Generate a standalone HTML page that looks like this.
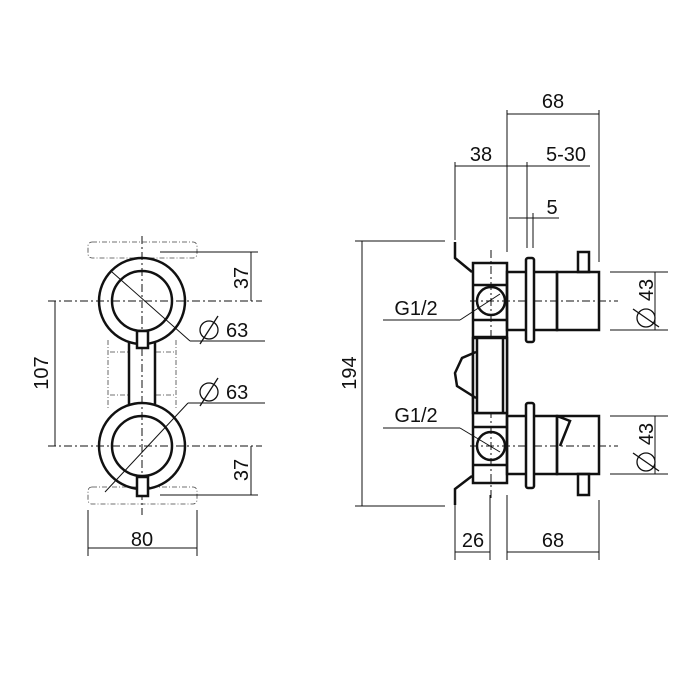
<!DOCTYPE html>
<html><head><meta charset="utf-8"><style>
html,body{margin:0;padding:0;background:#fff}
svg{display:block}
text{font-family:"Liberation Sans",sans-serif;font-size:20px;fill:#111}
</style></head><body>
<svg width="700" height="700" viewBox="0 0 700 700" xmlns="http://www.w3.org/2000/svg">
<g fill="none" stroke="#111">
<!-- LEFT VIEW -->
<g stroke-width="1" stroke-dasharray="8,3,2,3">
<line x1="48" y1="301" x2="262" y2="301"/>
<line x1="48" y1="446" x2="262" y2="446"/>
<line x1="142" y1="236" x2="142" y2="515"/>
</g>
<g stroke-width="0.8" stroke-dasharray="5,2,1,2" stroke="#444">
<rect x="88" y="242" width="109" height="16" rx="4"/>
<rect x="88" y="487" width="109" height="17" rx="4"/>
<line x1="108" y1="340" x2="108" y2="410"/>
<line x1="176" y1="340" x2="176" y2="410"/>
<line x1="110" y1="352" x2="128" y2="352"/><line x1="156" y1="352" x2="174" y2="352"/>
<line x1="110" y1="395" x2="128" y2="395"/><line x1="156" y1="395" x2="174" y2="395"/>
</g>
<g stroke-width="2.5">
<circle cx="142" cy="301" r="43"/>
<circle cx="142" cy="301" r="30"/>
<circle cx="142" cy="446" r="43"/>
<circle cx="142" cy="446" r="30"/>
<line x1="129" y1="343" x2="129" y2="404"/>
<line x1="155" y1="343" x2="155" y2="404"/>
<rect x="137" y="331" width="11" height="17" fill="#fff"/>
<rect x="137" y="477" width="11" height="19" fill="#fff"/>
</g>
<g stroke-width="1">
<line x1="112" y1="272" x2="190" y2="341"/><line x1="190" y1="341" x2="265" y2="341"/>
<line x1="105" y1="492" x2="188" y2="403"/><line x1="188" y1="403" x2="265" y2="403"/>
<line x1="55" y1="301" x2="55" y2="446"/>
<line x1="160" y1="252" x2="258" y2="252"/><line x1="251" y1="252" x2="251" y2="301"/>
<line x1="160" y1="495" x2="258" y2="495"/><line x1="251" y1="446" x2="251" y2="495"/>
<line x1="88" y1="510" x2="88" y2="556"/><line x1="197" y1="510" x2="197" y2="556"/>
<line x1="88" y1="548" x2="197" y2="548"/>
</g>
<!-- RIGHT VIEW -->
<g stroke-width="1" stroke-dasharray="8,3,2,3">
<line x1="470" y1="301" x2="618" y2="301"/>
<line x1="470" y1="446" x2="618" y2="446"/>
<line x1="491" y1="250" x2="491" y2="500"/>
</g>
<g stroke-width="1">
<line x1="455" y1="162" x2="455" y2="240"/><line x1="455" y1="505" x2="455" y2="560"/>
<line x1="507" y1="110" x2="507" y2="252"/><line x1="599" y1="110" x2="599" y2="262"/>
<line x1="507" y1="114" x2="599" y2="114"/>
<line x1="455" y1="166" x2="590" y2="166"/>
<line x1="527" y1="162" x2="527" y2="248"/><line x1="533" y1="213" x2="533" y2="248"/>
<line x1="509" y1="218" x2="559" y2="218"/>
<line x1="490" y1="495" x2="490" y2="560"/><line x1="507" y1="495" x2="507" y2="560"/><line x1="599" y1="500" x2="599" y2="560"/>
<line x1="455" y1="552" x2="490" y2="552"/><line x1="507" y1="552" x2="599" y2="552"/>
<line x1="362" y1="241" x2="362" y2="506"/>
<line x1="355" y1="241" x2="445" y2="241"/><line x1="355" y1="506" x2="445" y2="506"/>
<line x1="610" y1="272" x2="668" y2="272"/><line x1="610" y1="330" x2="668" y2="330"/>
<line x1="655" y1="272" x2="655" y2="330"/>
<line x1="610" y1="416" x2="668" y2="416"/><line x1="610" y1="474" x2="668" y2="474"/>
<line x1="655" y1="416" x2="655" y2="474"/>
<line x1="383" y1="320" x2="460" y2="320"/><line x1="460" y1="320" x2="500" y2="294"/>
<line x1="383" y1="428" x2="460" y2="428"/><line x1="460" y1="428" x2="500" y2="452"/>
</g>
<g stroke-width="2.5">
<path d="M455 242 L455 258 L472 272"/>
<path d="M455 505 L455 489 L472 476"/>
<rect x="473" y="263" width="34" height="220"/>
<line x1="473" y1="285" x2="507" y2="285"/><line x1="473" y1="320" x2="507" y2="320"/>
<line x1="473" y1="337" x2="507" y2="337"/>
<line x1="473" y1="413" x2="507" y2="413"/>
<line x1="473" y1="427" x2="507" y2="427"/><line x1="473" y1="465" x2="507" y2="465"/>
<rect x="473" y="338" width="34" height="75" fill="#fff"/>
<line x1="477" y1="338" x2="477" y2="413"/><line x1="503" y1="338" x2="503" y2="413"/>
<path d="M476 352 L462 358 L455 373 L457 386 L476 398"/>
<circle cx="491" cy="301" r="14"/>
<circle cx="491" cy="446" r="14"/>
<rect x="507" y="272" width="50" height="58"/>
<rect x="557" y="272" width="42" height="58"/>
<rect x="526" y="258" width="8" height="84" rx="2" fill="#fff"/>
<rect x="578" y="252" width="11" height="20"/>
<rect x="507" y="416" width="50" height="58"/>
<path d="M557 416 L599 416 L599 474 L557 474 Z M557 416 L570 421 L560 446"/>
<rect x="526" y="403" width="8" height="85" rx="2" fill="#fff"/>
<rect x="578" y="474" width="11" height="21"/>
</g>
<g stroke-width="1.3">
<!-- diameter symbols -->
<circle cx="209" cy="330" r="9"/><line x1="200" y1="344" x2="218" y2="316"/>
<circle cx="209" cy="392" r="9"/><line x1="200" y1="406" x2="218" y2="378"/>
<circle cx="646" cy="318" r="9"/><line x1="633" y1="309" x2="659" y2="327"/>
<circle cx="646" cy="462" r="9"/><line x1="633" y1="453" x2="659" y2="471"/>
</g>
</g>
<!-- TEXT -->
<text x="142" y="546" text-anchor="middle">80</text>
<text transform="translate(48,373) rotate(-90)" text-anchor="middle">107</text>
<text transform="translate(248,278) rotate(-90)" text-anchor="middle">37</text>
<text transform="translate(248,470) rotate(-90)" text-anchor="middle">37</text>
<text x="226" y="337">63</text>
<text x="226" y="399">63</text>
<text transform="translate(356,373) rotate(-90)" text-anchor="middle">194</text>
<text x="553" y="108" text-anchor="middle">68</text>
<text x="481" y="161" text-anchor="middle">38</text>
<text x="566" y="161" text-anchor="middle">5-30</text>
<text x="552" y="214" text-anchor="middle">5</text>
<text x="473" y="547" text-anchor="middle">26</text>
<text x="553" y="547" text-anchor="middle">68</text>
<text x="416" y="315" text-anchor="middle">G1/2</text>
<text x="416" y="422" text-anchor="middle">G1/2</text>
<text transform="translate(653,290) rotate(-90)" text-anchor="middle">43</text>
<text transform="translate(653,434) rotate(-90)" text-anchor="middle">43</text>
</svg>
</body></html>
